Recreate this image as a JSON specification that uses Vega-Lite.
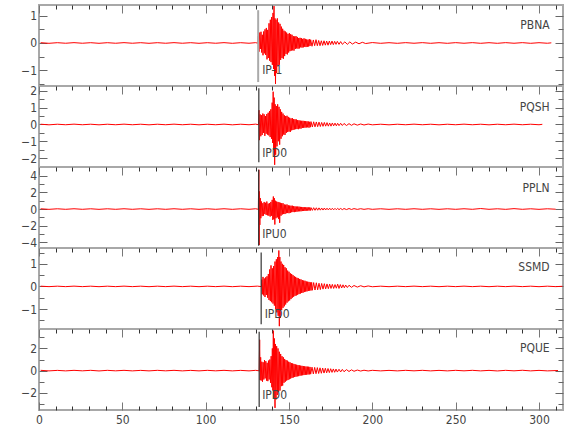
{
"$schema": "https://vega.github.io/schema/vega-lite/v6.json",
"padding": {"left": 19, "top": 3, "right": 5, "bottom": 5},
"spacing": 0,
"bounds": "flush",
"config": {
 "view": {"stroke": "#a8a8a8", "strokeWidth": 2},
 "axis": {"domain": false, "grid": false, "labelFont": "Liberation Sans Narrow, DejaVu Sans Condensed, sans-serif", "labelFontSize": 12, "labelColor": "#444", "tickColor": "#666", "tickWidth": 1, "labelFlush": false, "labelOverlap": false},
 "text": {"font": "Liberation Sans Narrow, DejaVu Sans Condensed, sans-serif", "fontSize": 12, "fill": "#444"}
},
"datasets": {
"PBNA": [{"t":1,"v":0.01},{"t":6,"v":-0.012},{"t":11,"v":0.01},{"t":16,"v":-0.01},{"t":21,"v":0.012},{"t":26,"v":-0.01},{"t":31,"v":0.01},{"t":36,"v":-0.012},{"t":41,"v":0.01},{"t":46,"v":-0.01},{"t":51,"v":0.012},{"t":56,"v":-0.01},{"t":61,"v":0.01},{"t":66,"v":-0.012},{"t":71,"v":0.01},{"t":76,"v":-0.01},{"t":81,"v":0.012},{"t":86,"v":-0.01},{"t":91,"v":0.01},{"t":96,"v":-0.012},{"t":101,"v":0.01},{"t":106,"v":-0.01},{"t":111,"v":0.012},{"t":116,"v":-0.012},{"t":121,"v":0.01},{"t":126,"v":-0.01},{"t":130,"v":0.012},{"t":131.3,"v":-0.01},
{"t":131.6,"v":0.25},{"t":132.0,"v":-0.32},{"t":132.4,"v":0.38},{"t":132.8,"v":-0.22},{"t":133.2,"v":0.41},{"t":133.6,"v":-0.35},{"t":134.0,"v":0.3},{"t":134.4,"v":-0.45},{"t":134.8,"v":0.42},{"t":135.2,"v":-0.38},{"t":135.6,"v":0.5},{"t":136.0,"v":-0.44},{"t":136.4,"v":0.55},{"t":136.8,"v":-0.6},{"t":137.2,"v":0.48},{"t":137.6,"v":-0.55},{"t":138.0,"v":0.72},{"t":138.4,"v":-0.65},{"t":138.8,"v":0.85},{"t":139.2,"v":-0.7},{"t":139.6,"v":0.95},{"t":140.0,"v":-0.8},{"t":140.4,"v":1.1},{"t":140.7,"v":-0.95},{"t":141.0,"v":1.35},{"t":141.3,"v":-1.2},{"t":141.6,"v":0.9},{"t":141.9,"v":-1.5},{"t":142.2,"v":0.85},{"t":142.6,"v":-1.1},{"t":143.0,"v":0.9},{"t":143.4,"v":-0.85},{"t":143.8,"v":0.75},{"t":144.2,"v":-0.8},{"t":144.6,"v":0.7},{"t":145.0,"v":-0.62},{"t":145.4,"v":0.6},{"t":145.8,"v":-0.55},{"t":146.2,"v":0.52},{"t":146.6,"v":-0.58},{"t":147.0,"v":0.45},{"t":147.4,"v":-0.48},{"t":147.8,"v":0.42},{"t":148.2,"v":-0.4},{"t":148.6,"v":0.38},{"t":149.0,"v":-0.42},{"t":149.4,"v":0.33},{"t":149.8,"v":-0.35},{"t":150.2,"v":0.36},{"t":150.6,"v":-0.3},{"t":151.0,"v":0.32},{"t":151.4,"v":-0.28},{"t":151.8,"v":0.3},{"t":152.2,"v":-0.27},{"t":152.6,"v":0.25},{"t":153.0,"v":-0.28},{"t":153.4,"v":0.24},{"t":153.8,"v":-0.22},{"t":154.2,"v":0.25},{"t":154.6,"v":-0.2},{"t":155.0,"v":0.22},{"t":155.4,"v":-0.21},{"t":155.8,"v":0.18},{"t":156.2,"v":-0.2},{"t":156.6,"v":0.19},{"t":157.0,"v":-0.16},{"t":157.4,"v":0.18},{"t":157.8,"v":-0.17},{"t":158.2,"v":0.15},{"t":158.6,"v":-0.16},{"t":159.0,"v":0.17},{"t":159.4,"v":-0.14},{"t":159.8,"v":0.15},{"t":160.2,"v":-0.15},{"t":160.6,"v":0.13},{"t":161.0,"v":-0.14},{"t":161.4,"v":0.12},{"t":161.8,"v":-0.13},{"t":162.2,"v":0.14},{"t":162.6,"v":-0.11},{"t":163.0,"v":0.12},
{"t":163.8,"v":-0.12},{"t":164.6,"v":0.11},{"t":165.4,"v":-0.1},{"t":166.2,"v":0.12},{"t":167.0,"v":-0.1},{"t":167.8,"v":0.09},{"t":168.6,"v":-0.1},{"t":169.4,"v":0.08},{"t":170.2,"v":-0.09},{"t":171.0,"v":0.08},{"t":171.8,"v":-0.08},{"t":172.6,"v":0.07},{"t":173.4,"v":-0.08},{"t":174.2,"v":0.07},{"t":175.0,"v":-0.06},{"t":175.8,"v":0.07},{"t":176.6,"v":-0.06},{"t":177.4,"v":0.06},{"t":178.2,"v":-0.05},{"t":179.0,"v":0.06},{"t":180.0,"v":-0.05},{"t":181.0,"v":0.05},{"t":182.0,"v":-0.05},{"t":183.5,"v":0.04},{"t":185.0,"v":-0.05},{"t":186.5,"v":0.04},{"t":188.0,"v":-0.04},{"t":190.0,"v":0.03},{"t":192.0,"v":-0.03},{"t":194.0,"v":0.025},{"t":196.0,"v":-0.02},
{"t":200,"v":0.015},{"t":205,"v":-0.012},{"t":210,"v":0.01},{"t":215,"v":-0.012},{"t":220,"v":0.012},{"t":225,"v":-0.01},{"t":230,"v":0.012},{"t":235,"v":-0.012},{"t":240,"v":0.01},{"t":245,"v":-0.012},{"t":250,"v":0.012},{"t":255,"v":-0.01},{"t":260,"v":0.012},{"t":265,"v":-0.012},{"t":270,"v":0.01},{"t":275,"v":-0.012},{"t":280,"v":0.012},{"t":285,"v":-0.01},{"t":290,"v":0.012},{"t":295,"v":-0.012},{"t":300,"v":0.01},{"t":305,"v":-0.01},{"t":307.4,"v":0.005}],
"PQSH": [{"t":1,"v":0.015},{"t":6,"v":-0.02},{"t":11,"v":0.015},{"t":16,"v":-0.015},{"t":21,"v":0.02},{"t":26,"v":-0.015},{"t":31,"v":0.015},{"t":36,"v":-0.02},{"t":41,"v":0.015},{"t":46,"v":-0.015},{"t":51,"v":0.02},{"t":56,"v":-0.015},{"t":61,"v":0.015},{"t":66,"v":-0.02},{"t":71,"v":0.015},{"t":76,"v":-0.015},{"t":81,"v":0.02},{"t":86,"v":-0.015},{"t":91,"v":0.015},{"t":96,"v":-0.02},{"t":101,"v":0.015},{"t":106,"v":-0.015},{"t":111,"v":0.02},{"t":116,"v":-0.02},{"t":121,"v":0.015},{"t":126,"v":-0.015},{"t":130,"v":0.02},{"t":131.7,"v":-0.015},
{"t":132.0,"v":0.85},{"t":132.3,"v":-0.93},{"t":132.7,"v":0.6},{"t":133.1,"v":-0.7},{"t":133.5,"v":0.55},{"t":133.9,"v":-0.62},{"t":134.3,"v":0.65},{"t":134.7,"v":-0.5},{"t":135.1,"v":0.6},{"t":135.5,"v":-0.68},{"t":135.9,"v":0.5},{"t":136.3,"v":-0.55},{"t":136.7,"v":0.62},{"t":137.1,"v":-0.6},{"t":137.5,"v":0.7},{"t":137.9,"v":-0.65},{"t":138.3,"v":0.8},{"t":138.7,"v":-0.75},{"t":139.1,"v":0.9},{"t":139.5,"v":-0.85},{"t":139.9,"v":1.3},{"t":140.2,"v":-1.1},{"t":140.5,"v":1.95},{"t":140.8,"v":-1.5},{"t":141.1,"v":1.6},{"t":141.4,"v":-2.4},{"t":141.7,"v":1.2},{"t":142.0,"v":-1.8},{"t":142.4,"v":1.1},{"t":142.8,"v":-1.3},{"t":143.2,"v":1.2},{"t":143.6,"v":-1.0},{"t":144.0,"v":1.05},{"t":144.4,"v":-1.2},{"t":144.8,"v":0.9},{"t":145.2,"v":-0.85},{"t":145.6,"v":0.75},{"t":146.0,"v":-0.7},{"t":146.4,"v":0.65},{"t":146.8,"v":-0.6},{"t":147.2,"v":0.55},{"t":147.6,"v":-0.62},{"t":148.0,"v":0.5},{"t":148.4,"v":-0.5},{"t":148.8,"v":0.52},{"t":149.2,"v":-0.45},{"t":149.6,"v":0.45},{"t":150.0,"v":-0.42},{"t":150.4,"v":0.4},{"t":150.8,"v":-0.44},{"t":151.2,"v":0.36},{"t":151.6,"v":-0.35},{"t":152.0,"v":0.38},{"t":152.4,"v":-0.33},{"t":152.8,"v":0.32},{"t":153.2,"v":-0.3},{"t":153.6,"v":0.31},{"t":154.0,"v":-0.28},{"t":154.4,"v":0.3},{"t":154.8,"v":-0.27},{"t":155.2,"v":0.26},{"t":155.6,"v":-0.28},{"t":156.0,"v":0.25},{"t":156.4,"v":-0.24},{"t":156.8,"v":0.23},{"t":157.2,"v":-0.25},{"t":157.6,"v":0.22},{"t":158.0,"v":-0.21},{"t":158.4,"v":0.22},{"t":158.8,"v":-0.2},{"t":159.2,"v":0.21},{"t":159.6,"v":-0.19},{"t":160.0,"v":0.2},{"t":160.4,"v":-0.18},{"t":160.8,"v":0.19},{"t":161.2,"v":-0.17},{"t":161.6,"v":0.18},{"t":162.0,"v":-0.19},{"t":162.4,"v":0.16},{"t":162.8,"v":-0.16},{"t":163.2,"v":0.17},
{"t":164.0,"v":-0.15},{"t":164.8,"v":0.16},{"t":165.6,"v":-0.14},{"t":166.4,"v":0.15},{"t":167.2,"v":-0.13},{"t":168.0,"v":0.14},{"t":168.8,"v":-0.12},{"t":169.6,"v":0.12},{"t":170.4,"v":-0.11},{"t":171.2,"v":0.12},{"t":172.0,"v":-0.1},{"t":172.8,"v":0.11},{"t":173.6,"v":-0.1},{"t":174.4,"v":0.09},{"t":175.2,"v":-0.1},{"t":176.0,"v":0.09},{"t":176.8,"v":-0.08},{"t":177.6,"v":0.08},{"t":178.4,"v":-0.08},{"t":179.2,"v":0.07},{"t":180.0,"v":-0.07},{"t":181.0,"v":0.07},{"t":182.0,"v":-0.06},{"t":183.0,"v":0.06},{"t":184.5,"v":-0.06},{"t":186.0,"v":0.05},{"t":187.5,"v":-0.05},{"t":189.0,"v":0.04},{"t":191.0,"v":-0.04},{"t":193.0,"v":0.03},{"t":195.0,"v":-0.03},{"t":197.5,"v":0.025},
{"t":200,"v":-0.02},{"t":205,"v":0.015},{"t":210,"v":-0.02},{"t":215,"v":0.015},{"t":220,"v":-0.015},{"t":225,"v":0.02},{"t":230,"v":-0.015},{"t":235,"v":0.015},{"t":240,"v":-0.02},{"t":245,"v":0.015},{"t":250,"v":-0.015},{"t":255,"v":0.02},{"t":260,"v":-0.015},{"t":265,"v":0.015},{"t":270,"v":-0.02},{"t":275,"v":0.015},{"t":280,"v":-0.015},{"t":285,"v":0.02},{"t":290,"v":-0.015},{"t":295,"v":0.015},{"t":300,"v":-0.015},{"t":302,"v":0.01}],
"PPLN": [{"t":1,"v":0.03},{"t":6,"v":-0.035},{"t":11,"v":0.03},{"t":16,"v":-0.03},{"t":21,"v":0.035},{"t":26,"v":-0.03},{"t":31,"v":0.03},{"t":36,"v":-0.035},{"t":41,"v":0.03},{"t":46,"v":-0.03},{"t":51,"v":0.035},{"t":56,"v":-0.03},{"t":61,"v":0.03},{"t":66,"v":-0.035},{"t":71,"v":0.03},{"t":76,"v":-0.03},{"t":81,"v":0.035},{"t":86,"v":-0.03},{"t":91,"v":0.03},{"t":96,"v":-0.035},{"t":101,"v":0.03},{"t":106,"v":-0.03},{"t":111,"v":0.035},{"t":116,"v":-0.035},{"t":121,"v":0.03},{"t":126,"v":-0.03},{"t":130,"v":0.035},{"t":131.6,"v":-0.03},
{"t":131.9,"v":4.7},{"t":132.1,"v":-4.3},{"t":132.3,"v":2.1},{"t":132.5,"v":-1.9},{"t":132.8,"v":1.3},{"t":133.1,"v":-1.1},{"t":133.5,"v":0.9},{"t":133.9,"v":-0.85},{"t":134.3,"v":0.7},{"t":134.7,"v":-0.8},{"t":135.1,"v":0.85},{"t":135.5,"v":-0.6},{"t":135.9,"v":0.75},{"t":136.3,"v":-0.7},{"t":136.7,"v":0.9},{"t":137.1,"v":-0.75},{"t":137.5,"v":0.65},{"t":137.9,"v":-0.8},{"t":138.3,"v":0.7},{"t":138.7,"v":-0.9},{"t":139.1,"v":0.85},{"t":139.5,"v":-0.8},{"t":139.9,"v":1.1},{"t":140.3,"v":-1.3},{"t":140.6,"v":1.5},{"t":140.9,"v":-1.2},{"t":141.2,"v":1.3},{"t":141.5,"v":-1.85},{"t":141.8,"v":1.0},{"t":142.2,"v":-1.1},{"t":142.6,"v":0.9},{"t":143.0,"v":-1.0},{"t":143.4,"v":0.85},{"t":143.8,"v":-1.2},{"t":144.1,"v":0.8},{"t":144.4,"v":-1.65},{"t":144.8,"v":0.75},{"t":145.2,"v":-0.8},{"t":145.6,"v":0.7},{"t":146.0,"v":-0.65},{"t":146.4,"v":0.7},{"t":146.8,"v":-0.6},{"t":147.2,"v":0.55},{"t":147.6,"v":-0.6},{"t":148.0,"v":0.52},{"t":148.4,"v":-0.5},{"t":148.8,"v":0.55},{"t":149.2,"v":-0.48},{"t":149.6,"v":0.45},{"t":150.0,"v":-0.5},{"t":150.4,"v":0.42},{"t":150.8,"v":-0.45},{"t":151.2,"v":0.4},{"t":151.6,"v":-0.38},{"t":152.0,"v":0.4},{"t":152.4,"v":-0.36},{"t":152.8,"v":0.35},{"t":153.2,"v":-0.37},{"t":153.6,"v":0.32},{"t":154.0,"v":-0.33},{"t":154.4,"v":0.3},{"t":154.8,"v":-0.32},{"t":155.2,"v":0.3},{"t":155.6,"v":-0.28},{"t":156.0,"v":0.29},{"t":156.4,"v":-0.27},{"t":156.8,"v":0.26},{"t":157.2,"v":-0.27},{"t":157.6,"v":0.25},{"t":158.0,"v":-0.24},{"t":158.4,"v":0.24},{"t":158.8,"v":-0.23},{"t":159.2,"v":0.22},{"t":159.6,"v":-0.23},{"t":160.0,"v":0.21},{"t":160.4,"v":-0.2},{"t":160.8,"v":0.21},{"t":161.2,"v":-0.19},{"t":161.6,"v":0.2},{"t":162.0,"v":-0.18},{"t":162.4,"v":0.19},{"t":162.8,"v":-0.18},{"t":163.2,"v":0.17},
{"t":164.0,"v":-0.16},{"t":164.8,"v":0.16},{"t":165.6,"v":-0.15},{"t":166.4,"v":0.15},{"t":167.2,"v":-0.14},{"t":168.0,"v":0.14},{"t":168.8,"v":-0.13},{"t":169.6,"v":0.12},{"t":170.4,"v":-0.12},{"t":171.2,"v":0.12},{"t":172.0,"v":-0.11},{"t":172.8,"v":0.1},{"t":173.6,"v":-0.1},{"t":174.4,"v":0.1},{"t":175.2,"v":-0.09},{"t":176.0,"v":0.09},{"t":176.8,"v":-0.09},{"t":177.6,"v":0.08},{"t":178.4,"v":-0.08},{"t":179.2,"v":0.08},{"t":180.0,"v":-0.07},{"t":181.0,"v":0.07},{"t":182.0,"v":-0.07},{"t":183.0,"v":0.06},{"t":184.5,"v":-0.06},{"t":186.0,"v":0.06},{"t":187.5,"v":-0.05},{"t":189.0,"v":0.05},{"t":191.0,"v":-0.04},{"t":193.0,"v":0.04},{"t":195.0,"v":-0.035},{"t":197.5,"v":0.035},
{"t":200,"v":-0.03},{"t":205,"v":0.03},{"t":210,"v":-0.035},{"t":215,"v":0.03},{"t":220,"v":-0.03},{"t":225,"v":0.035},{"t":230,"v":-0.03},{"t":235,"v":0.03},{"t":240,"v":-0.035},{"t":245,"v":0.03},{"t":250,"v":-0.03},{"t":255,"v":0.035},{"t":260,"v":-0.03},{"t":265,"v":0.06},{"t":270,"v":-0.03},{"t":275,"v":0.03},{"t":280,"v":-0.035},{"t":285,"v":0.05},{"t":290,"v":-0.03},{"t":295,"v":0.03},{"t":300,"v":-0.035},{"t":305,"v":0.03},{"t":310,"v":-0.02}],
"SSMD": [{"t":1,"v":0.01},{"t":6,"v":-0.01},{"t":11,"v":0.01},{"t":16,"v":-0.01},{"t":21,"v":0.012},{"t":26,"v":-0.01},{"t":31,"v":0.01},{"t":36,"v":-0.012},{"t":41,"v":0.01},{"t":46,"v":-0.01},{"t":51,"v":0.012},{"t":56,"v":-0.01},{"t":61,"v":0.01},{"t":66,"v":-0.012},{"t":71,"v":0.01},{"t":76,"v":-0.01},{"t":81,"v":0.012},{"t":86,"v":-0.01},{"t":91,"v":0.01},{"t":96,"v":-0.012},{"t":101,"v":0.01},{"t":106,"v":-0.01},{"t":111,"v":0.012},{"t":116,"v":-0.012},{"t":121,"v":0.01},{"t":126,"v":-0.01},{"t":131,"v":0.012},{"t":133.5,"v":-0.01},
{"t":133.7,"v":0.3},{"t":134.0,"v":-0.35},{"t":134.4,"v":0.42},{"t":134.8,"v":-0.4},{"t":135.2,"v":0.35},{"t":135.6,"v":-0.47},{"t":136.0,"v":0.4},{"t":136.4,"v":-0.38},{"t":136.8,"v":0.45},{"t":137.2,"v":-0.5},{"t":137.6,"v":0.55},{"t":138.0,"v":-0.6},{"t":138.4,"v":0.75},{"t":138.8,"v":-0.65},{"t":139.2,"v":0.93},{"t":139.6,"v":-0.7},{"t":140.0,"v":0.8},{"t":140.4,"v":-0.76},{"t":140.8,"v":0.9},{"t":141.2,"v":-0.85},{"t":141.6,"v":1.1},{"t":142.0,"v":-1.0},{"t":142.4,"v":1.2},{"t":142.8,"v":-1.15},{"t":143.2,"v":1.3},{"t":143.5,"v":-1.3},{"t":143.9,"v":1.59},{"t":144.2,"v":-1.76},{"t":144.5,"v":1.3},{"t":144.8,"v":-1.4},{"t":145.2,"v":1.1},{"t":145.6,"v":-1.05},{"t":146.0,"v":1.0},{"t":146.4,"v":-0.95},{"t":146.8,"v":0.95},{"t":147.2,"v":-0.88},{"t":147.6,"v":0.85},{"t":148.0,"v":-0.8},{"t":148.4,"v":0.8},{"t":148.8,"v":-0.72},{"t":149.2,"v":0.7},{"t":149.6,"v":-0.66},{"t":150.0,"v":0.65},{"t":150.4,"v":-0.62},{"t":150.8,"v":0.58},{"t":151.2,"v":-0.56},{"t":151.6,"v":0.55},{"t":152.0,"v":-0.5},{"t":152.4,"v":0.5},{"t":152.8,"v":-0.46},{"t":153.2,"v":0.45},{"t":153.6,"v":-0.42},{"t":154.0,"v":0.42},{"t":154.4,"v":-0.4},{"t":154.8,"v":0.38},{"t":155.2,"v":-0.37},{"t":155.6,"v":0.36},{"t":156.0,"v":-0.34},{"t":156.4,"v":0.33},{"t":156.8,"v":-0.32},{"t":157.2,"v":0.31},{"t":157.6,"v":-0.29},{"t":158.0,"v":0.28},{"t":158.4,"v":-0.28},{"t":158.8,"v":0.26},{"t":159.2,"v":-0.25},{"t":159.6,"v":0.25},{"t":160.0,"v":-0.23},{"t":160.4,"v":0.22},{"t":160.8,"v":-0.22},{"t":161.2,"v":0.21},{"t":161.6,"v":-0.2},{"t":162.0,"v":0.2},{"t":162.4,"v":-0.19},{"t":162.8,"v":0.18},{"t":163.2,"v":-0.18},{"t":163.6,"v":0.18},{"t":164.0,"v":-0.17},
{"t":164.8,"v":0.17},{"t":165.6,"v":-0.16},{"t":166.4,"v":0.16},{"t":167.2,"v":-0.15},{"t":168.0,"v":0.14},{"t":168.8,"v":-0.14},{"t":169.6,"v":0.13},{"t":170.4,"v":-0.12},{"t":171.2,"v":0.12},{"t":172.0,"v":-0.11},{"t":172.8,"v":0.11},{"t":173.6,"v":-0.1},{"t":174.4,"v":0.1},{"t":175.2,"v":-0.09},{"t":176.0,"v":0.09},{"t":176.8,"v":-0.09},{"t":177.6,"v":0.08},{"t":178.4,"v":-0.08},{"t":179.2,"v":0.1},{"t":180.0,"v":-0.09},{"t":180.8,"v":0.08},{"t":181.6,"v":-0.07},{"t":182.4,"v":0.07},{"t":183.2,"v":-0.06},{"t":184.0,"v":0.06},{"t":185.0,"v":-0.05},{"t":186.0,"v":0.05},{"t":187.5,"v":-0.04},{"t":189.0,"v":0.04},{"t":191.0,"v":-0.03},{"t":193.0,"v":0.03},{"t":195.0,"v":-0.02},{"t":197.5,"v":0.02},
{"t":200,"v":-0.015},{"t":205,"v":0.01},{"t":210,"v":-0.012},{"t":215,"v":0.01},{"t":220,"v":-0.01},{"t":225,"v":0.012},{"t":230,"v":-0.01},{"t":235,"v":0.01},{"t":240,"v":-0.012},{"t":245,"v":0.01},{"t":250,"v":-0.01},{"t":255,"v":0.012},{"t":260,"v":-0.01},{"t":265,"v":0.01},{"t":270,"v":-0.012},{"t":275,"v":0.01},{"t":280,"v":-0.01},{"t":285,"v":0.012},{"t":290,"v":-0.01},{"t":295,"v":0.01},{"t":300,"v":-0.012},{"t":305,"v":0.01},{"t":310,"v":-0.01},{"t":314,"v":0.005}],
"PQUE": [{"t":1,"v":0.025},{"t":6,"v":-0.025},{"t":11,"v":0.02},{"t":16,"v":-0.025},{"t":21,"v":0.025},{"t":26,"v":-0.02},{"t":31,"v":0.025},{"t":36,"v":-0.03},{"t":41,"v":0.025},{"t":46,"v":-0.02},{"t":51,"v":0.025},{"t":56,"v":-0.025},{"t":61,"v":0.02},{"t":66,"v":-0.025},{"t":71,"v":0.025},{"t":76,"v":-0.02},{"t":81,"v":0.025},{"t":86,"v":-0.025},{"t":91,"v":0.02},{"t":96,"v":-0.025},{"t":101,"v":0.025},{"t":106,"v":-0.02},{"t":111,"v":0.025},{"t":116,"v":-0.025},{"t":121,"v":0.02},{"t":126,"v":-0.025},{"t":130,"v":0.025},{"t":132.1,"v":-0.02},
{"t":132.4,"v":2.78},{"t":132.7,"v":-0.85},{"t":133.0,"v":1.2},{"t":133.3,"v":-0.9},{"t":133.7,"v":0.8},{"t":134.1,"v":-1.0},{"t":134.5,"v":0.75},{"t":134.9,"v":-0.8},{"t":135.3,"v":0.95},{"t":135.7,"v":-0.7},{"t":136.1,"v":0.85},{"t":136.5,"v":-0.9},{"t":136.9,"v":0.7},{"t":137.3,"v":-0.95},{"t":137.7,"v":0.9},{"t":138.1,"v":-0.8},{"t":138.5,"v":1.0},{"t":138.9,"v":-1.1},{"t":139.3,"v":1.3},{"t":139.7,"v":-1.5},{"t":140.0,"v":2.0},{"t":140.3,"v":-1.8},{"t":140.6,"v":3.6},{"t":140.9,"v":-2.5},{"t":141.2,"v":2.9},{"t":141.6,"v":-3.36},{"t":141.9,"v":2.4},{"t":142.2,"v":-2.6},{"t":142.6,"v":2.2},{"t":143.0,"v":-2.2},{"t":143.4,"v":2.0},{"t":143.8,"v":-1.9},{"t":144.2,"v":1.7},{"t":144.6,"v":-1.8},{"t":145.0,"v":1.5},{"t":145.4,"v":-1.4},{"t":145.8,"v":1.3},{"t":146.2,"v":-1.35},{"t":146.6,"v":1.2},{"t":147.0,"v":-1.1},{"t":147.4,"v":1.05},{"t":147.8,"v":-1.0},{"t":148.2,"v":0.95},{"t":148.6,"v":-0.9},{"t":149.0,"v":0.9},{"t":149.4,"v":-0.85},{"t":149.8,"v":0.8},{"t":150.2,"v":-0.78},{"t":150.6,"v":0.75},{"t":151.0,"v":-0.72},{"t":151.4,"v":0.68},{"t":151.8,"v":-0.66},{"t":152.2,"v":0.65},{"t":152.6,"v":-0.62},{"t":153.0,"v":0.6},{"t":153.4,"v":-0.58},{"t":153.8,"v":0.56},{"t":154.2,"v":-0.55},{"t":154.6,"v":0.53},{"t":155.0,"v":-0.52},{"t":155.4,"v":0.5},{"t":155.8,"v":-0.5},{"t":156.2,"v":0.48},{"t":156.6,"v":-0.46},{"t":157.0,"v":0.45},{"t":157.4,"v":-0.44},{"t":157.8,"v":0.43},{"t":158.2,"v":-0.42},{"t":158.6,"v":0.41},{"t":159.0,"v":-0.4},{"t":159.4,"v":0.39},{"t":159.8,"v":-0.38},{"t":160.2,"v":0.37},{"t":160.6,"v":-0.37},{"t":161.0,"v":0.36},{"t":161.4,"v":-0.35},{"t":161.8,"v":0.35},{"t":162.2,"v":-0.34},{"t":162.6,"v":0.33},{"t":163.0,"v":-0.32},
{"t":163.8,"v":0.31},{"t":164.6,"v":-0.3},{"t":165.4,"v":0.29},{"t":166.2,"v":-0.28},{"t":167.0,"v":0.27},{"t":167.8,"v":-0.26},{"t":168.6,"v":0.25},{"t":169.4,"v":-0.24},{"t":170.2,"v":0.23},{"t":171.0,"v":-0.22},{"t":171.8,"v":0.21},{"t":172.6,"v":-0.2},{"t":173.4,"v":0.19},{"t":174.2,"v":-0.18},{"t":175.0,"v":0.17},{"t":175.8,"v":-0.16},{"t":176.6,"v":0.15},{"t":177.4,"v":-0.15},{"t":178.2,"v":0.14},{"t":179.0,"v":-0.13},{"t":180.0,"v":0.12},{"t":181.0,"v":-0.12},{"t":182.0,"v":0.11},{"t":183.0,"v":-0.1},{"t":184.5,"v":0.09},{"t":186.0,"v":-0.08},{"t":187.5,"v":0.07},{"t":189.0,"v":-0.06},{"t":191.0,"v":0.05},{"t":193.0,"v":-0.04},{"t":195.0,"v":0.035},{"t":197.5,"v":-0.03},
{"t":200,"v":0.025},{"t":205,"v":-0.025},{"t":210,"v":0.02},{"t":215,"v":-0.025},{"t":220,"v":0.025},{"t":225,"v":-0.02},{"t":230,"v":0.025},{"t":235,"v":-0.025},{"t":240,"v":0.02},{"t":245,"v":-0.025},{"t":250,"v":0.025},{"t":255,"v":-0.02},{"t":260,"v":0.025},{"t":265,"v":-0.025},{"t":270,"v":0.02},{"t":275,"v":-0.03},{"t":280,"v":0.025},{"t":285,"v":-0.02},{"t":290,"v":0.03},{"t":295,"v":-0.025},{"t":300,"v":0.02},{"t":305,"v":-0.025},{"t":311.4,"v":0.01}]
},
"vconcat": [
{"width": 524, "height": 81,
 "resolve": {"axis": {"x": "independent", "y": "independent"}},
 "layer": [
  {"data": {"name": "PBNA"}, "mark": {"type": "line", "color": "#ff0000", "strokeWidth": 1, "clip": true},
   "encoding": {
    "x": {"field": "t", "type": "quantitative", "scale": {"domain": [0, 314.4], "nice": false, "zero": false}, "axis": {"orient": "top", "values": [0,50,100,150,200,250,300], "tickSize": -8, "labels": false, "title": null, "tickColor": "#777"}},
    "y": {"field": "v", "type": "quantitative", "scale": {"domain": [-1.575, 1.39], "nice": false, "zero": false}, "axis": {"orient": "left", "values": [-1,0,1], "tickSize": -8, "labelPadding": 10.5, "title": null}}}},
  {"data": {"values": [{"t": 131.5, "y1": 1.2, "y2": -1.43}]}, "mark": {"type": "rule", "color": "#aaaaaa", "strokeWidth": 2},
   "encoding": {
    "x": {"field": "t", "type": "quantitative", "scale": {"domain": [0, 314.4], "nice": false, "zero": false}, "axis": {"orient": "top", "values": [10,20,30,40,60,70,80,90,110,120,130,140,160,170,180,190,210,220,230,240,260,270,280,290,310], "tickSize": -4, "labels": false, "title": null, "tickColor": "#333"}},
    "y": {"field": "y1", "type": "quantitative", "scale": {"domain": [-1.575, 1.39], "nice": false, "zero": false}, "axis": {"orient": "right", "values": [-1,0,1], "tickSize": -8, "labels": false, "title": null}},
    "y2": {"field": "y2"}}},
  {"data": {"values": [{"t": 133.9, "v": -1.0, "label": "IP-1"}]}, "mark": {"type": "text", "align": "left", "baseline": "middle"},
   "encoding": {
    "x": {"field": "t", "type": "quantitative", "scale": {"domain": [0, 314.4], "nice": false, "zero": false}, "axis": null},
    "y": {"field": "v", "type": "quantitative", "scale": {"domain": [-1.575, 1.39], "nice": false, "zero": false}, "axis": {"orient": "left", "values": [-1.5,-0.5,0.5], "tickSize": -5, "labels": false, "title": null}},
    "text": {"field": "label"}}},
  {"data": {"values": [{"t": 306.4, "v": 0.67, "label": "PBNA"}]}, "mark": {"type": "text", "align": "right", "baseline": "middle"},
   "encoding": {
    "x": {"field": "t", "type": "quantitative", "scale": {"domain": [0, 314.4], "nice": false, "zero": false}, "axis": null},
    "y": {"field": "v", "type": "quantitative", "scale": {"domain": [-1.575, 1.39], "nice": false, "zero": false}, "axis": {"orient": "right", "values": [-1.5,-0.5,0.5], "tickSize": -5, "labels": false, "title": null}},
    "text": {"field": "label"}}}
 ]},
{"width": 524, "height": 81,
 "resolve": {"axis": {"x": "independent", "y": "independent"}},
 "layer": [
  {"data": {"name": "PQSH"}, "mark": {"type": "line", "color": "#ff0000", "strokeWidth": 1, "clip": true},
   "encoding": {
    "x": {"field": "t", "type": "quantitative", "scale": {"domain": [0, 314.4], "nice": false, "zero": false}, "axis": {"orient": "top", "values": [0,50,100,150,200,250,300], "tickSize": -8, "labels": false, "title": null, "tickColor": "#777"}},
    "y": {"field": "v", "type": "quantitative", "scale": {"domain": [-2.53, 2.29], "nice": false, "zero": false}, "axis": {"orient": "left", "values": [-2,-1,0,1,2], "tickSize": -8, "labelPadding": 10.5, "title": null}}}},
  {"data": {"values": [{"t": 131.9, "y1": 2.15, "y2": -2.25}]}, "mark": {"type": "rule", "color": "#333333", "strokeWidth": 1.2},
   "encoding": {
    "x": {"field": "t", "type": "quantitative", "scale": {"domain": [0, 314.4], "nice": false, "zero": false}, "axis": {"orient": "top", "values": [10,20,30,40,60,70,80,90,110,120,130,140,160,170,180,190,210,220,230,240,260,270,280,290,310], "tickSize": -4, "labels": false, "title": null, "tickColor": "#333"}},
    "y": {"field": "y1", "type": "quantitative", "scale": {"domain": [-2.53, 2.29], "nice": false, "zero": false}, "axis": {"orient": "right", "values": [-2,-1,0,1,2], "tickSize": -8, "labels": false, "title": null}},
    "y2": {"field": "y2"}}},
  {"data": {"values": [{"t": 133.9, "v": -1.72, "label": "IPD0"}]}, "mark": {"type": "text", "align": "left", "baseline": "middle"},
   "encoding": {
    "x": {"field": "t", "type": "quantitative", "scale": {"domain": [0, 314.4], "nice": false, "zero": false}, "axis": null},
    "y": {"field": "v", "type": "quantitative", "scale": {"domain": [-2.53, 2.29], "nice": false, "zero": false}, "axis": {"orient": "left", "values": [-1.5,-0.5,0.5,1.5], "tickSize": -5, "labels": false, "title": null}},
    "text": {"field": "label"}}},
  {"data": {"values": [{"t": 306.4, "v": 1.02, "label": "PQSH"}]}, "mark": {"type": "text", "align": "right", "baseline": "middle"},
   "encoding": {
    "x": {"field": "t", "type": "quantitative", "scale": {"domain": [0, 314.4], "nice": false, "zero": false}, "axis": null},
    "y": {"field": "v", "type": "quantitative", "scale": {"domain": [-2.53, 2.29], "nice": false, "zero": false}, "axis": {"orient": "right", "values": [-1.5,-0.5,0.5,1.5], "tickSize": -5, "labels": false, "title": null}},
    "text": {"field": "label"}}}
 ]},
{"width": 524, "height": 81,
 "resolve": {"axis": {"x": "independent", "y": "independent"}},
 "layer": [
  {"data": {"name": "PPLN"}, "mark": {"type": "line", "color": "#ff0000", "strokeWidth": 1, "clip": true},
   "encoding": {
    "x": {"field": "t", "type": "quantitative", "scale": {"domain": [0, 314.4], "nice": false, "zero": false}, "axis": {"orient": "top", "values": [0,50,100,150,200,250,300], "tickSize": -8, "labels": false, "title": null, "tickColor": "#777"}},
    "y": {"field": "v", "type": "quantitative", "scale": {"domain": [-4.66, 5.03], "nice": false, "zero": false}, "axis": {"orient": "left", "values": [-4,-2,0,2,4], "tickSize": -8, "labelPadding": 10.5, "title": null}}}},
  {"data": {"values": [{"t": 131.8, "y1": 4.7, "y2": -4.4}]}, "mark": {"type": "rule", "color": "#333333", "strokeWidth": 1.2},
   "encoding": {
    "x": {"field": "t", "type": "quantitative", "scale": {"domain": [0, 314.4], "nice": false, "zero": false}, "axis": {"orient": "top", "values": [10,20,30,40,60,70,80,90,110,120,130,140,160,170,180,190,210,220,230,240,260,270,280,290,310], "tickSize": -4, "labels": false, "title": null, "tickColor": "#333"}},
    "y": {"field": "y1", "type": "quantitative", "scale": {"domain": [-4.66, 5.03], "nice": false, "zero": false}, "axis": {"orient": "right", "values": [-4,-2,0,2,4], "tickSize": -8, "labels": false, "title": null}},
    "y2": {"field": "y2"}}},
  {"data": {"values": [{"t": 133.9, "v": -2.98, "label": "IPU0"}]}, "mark": {"type": "text", "align": "left", "baseline": "middle"},
   "encoding": {
    "x": {"field": "t", "type": "quantitative", "scale": {"domain": [0, 314.4], "nice": false, "zero": false}, "axis": null},
    "y": {"field": "v", "type": "quantitative", "scale": {"domain": [-4.66, 5.03], "nice": false, "zero": false}, "axis": {"orient": "left", "values": [-3,-1,1,3], "tickSize": -5, "labels": false, "title": null}},
    "text": {"field": "label"}}},
  {"data": {"values": [{"t": 306.4, "v": 2.57, "label": "PPLN"}]}, "mark": {"type": "text", "align": "right", "baseline": "middle"},
   "encoding": {
    "x": {"field": "t", "type": "quantitative", "scale": {"domain": [0, 314.4], "nice": false, "zero": false}, "axis": null},
    "y": {"field": "v", "type": "quantitative", "scale": {"domain": [-4.66, 5.03], "nice": false, "zero": false}, "axis": {"orient": "right", "values": [-3,-1,1,3], "tickSize": -5, "labels": false, "title": null}},
    "text": {"field": "label"}}}
 ]},
{"width": 524, "height": 81,
 "resolve": {"axis": {"x": "independent", "y": "independent"}},
 "layer": [
  {"data": {"name": "SSMD"}, "mark": {"type": "line", "color": "#ff0000", "strokeWidth": 1, "clip": true},
   "encoding": {
    "x": {"field": "t", "type": "quantitative", "scale": {"domain": [0, 314.4], "nice": false, "zero": false}, "axis": {"orient": "top", "values": [0,50,100,150,200,250,300], "tickSize": -8, "labels": false, "title": null, "tickColor": "#777"}},
    "y": {"field": "v", "type": "quantitative", "scale": {"domain": [-1.885, 1.7], "nice": false, "zero": false}, "axis": {"orient": "left", "values": [-1,0,1], "tickSize": -8, "labelPadding": 10.5, "title": null}}}},
  {"data": {"values": [{"t": 133.3, "y1": 1.5, "y2": -1.67}]}, "mark": {"type": "rule", "color": "#333333", "strokeWidth": 1.2},
   "encoding": {
    "x": {"field": "t", "type": "quantitative", "scale": {"domain": [0, 314.4], "nice": false, "zero": false}, "axis": {"orient": "top", "values": [10,20,30,40,60,70,80,90,110,120,130,140,160,170,180,190,210,220,230,240,260,270,280,290,310], "tickSize": -4, "labels": false, "title": null, "tickColor": "#333"}},
    "y": {"field": "y1", "type": "quantitative", "scale": {"domain": [-1.885, 1.7], "nice": false, "zero": false}, "axis": {"orient": "right", "values": [-1,0,1], "tickSize": -8, "labels": false, "title": null}},
    "y2": {"field": "y2"}}},
  {"data": {"values": [{"t": 135.4, "v": -1.2, "label": "IPD0"}]}, "mark": {"type": "text", "align": "left", "baseline": "middle"},
   "encoding": {
    "x": {"field": "t", "type": "quantitative", "scale": {"domain": [0, 314.4], "nice": false, "zero": false}, "axis": null},
    "y": {"field": "v", "type": "quantitative", "scale": {"domain": [-1.885, 1.7], "nice": false, "zero": false}, "axis": {"orient": "left", "values": [-1.5,-0.5,0.5,1.5], "tickSize": -5, "labels": false, "title": null}},
    "text": {"field": "label"}}},
  {"data": {"values": [{"t": 306.4, "v": 0.86, "label": "SSMD"}]}, "mark": {"type": "text", "align": "right", "baseline": "middle"},
   "encoding": {
    "x": {"field": "t", "type": "quantitative", "scale": {"domain": [0, 314.4], "nice": false, "zero": false}, "axis": null},
    "y": {"field": "v", "type": "quantitative", "scale": {"domain": [-1.885, 1.7], "nice": false, "zero": false}, "axis": {"orient": "right", "values": [-1.5,-0.5,0.5,1.5], "tickSize": -5, "labels": false, "title": null}},
    "text": {"field": "label"}}}
 ]},
{"width": 524, "height": 81,
 "resolve": {"axis": {"x": "independent", "y": "independent"}},
 "layer": [
  {"data": {"name": "PQUE"}, "mark": {"type": "line", "color": "#ff0000", "strokeWidth": 1, "clip": true},
   "encoding": {
    "x": {"field": "t", "type": "quantitative", "scale": {"domain": [0, 314.4], "nice": false, "zero": false}, "axis": {"orient": "top", "values": [0,50,100,150,200,250,300], "tickSize": -8, "labels": false, "title": null, "tickColor": "#777"}},
    "y": {"field": "v", "type": "quantitative", "scale": {"domain": [-3.55, 3.75], "nice": false, "zero": false}, "axis": {"orient": "left", "values": [-2,0,2], "tickSize": -8, "labelPadding": 10.5, "title": null}}}},
  {"data": {"values": [{"t": 132.1, "y1": 3.5, "y2": -3.27}]}, "mark": {"type": "rule", "color": "#333333", "strokeWidth": 1.2},
   "encoding": {
    "x": {"field": "t", "type": "quantitative", "scale": {"domain": [0, 314.4], "nice": false, "zero": false}, "axis": {"orient": "top", "values": [10,20,30,40,60,70,80,90,110,120,130,140,160,170,180,190,210,220,230,240,260,270,280,290,310], "tickSize": -4, "labels": false, "title": null, "tickColor": "#333"}},
    "y": {"field": "y1", "type": "quantitative", "scale": {"domain": [-3.55, 3.75], "nice": false, "zero": false}, "axis": {"orient": "right", "values": [-2,0,2], "tickSize": -8, "labels": false, "title": null}},
    "y2": {"field": "y2"}}},
  {"data": {"values": [{"t": 133.9, "v": -2.2, "label": "IPD0"}]}, "mark": {"type": "text", "align": "left", "baseline": "middle"},
   "encoding": {
    "x": {"field": "t", "type": "quantitative", "scale": {"domain": [0, 314.4], "nice": false, "zero": false}, "axis": {"orient": "bottom", "values": [0,50,100,150,200,250,300], "tickSize": -8, "labelPadding": 12, "title": null, "tickColor": "#777"}},
    "y": {"field": "v", "type": "quantitative", "scale": {"domain": [-3.55, 3.75], "nice": false, "zero": false}, "axis": {"orient": "left", "values": [-3,-1,1,3], "tickSize": -5, "labels": false, "title": null}},
    "text": {"field": "label"}}},
  {"data": {"values": [{"t": 306.4, "v": 2.0, "label": "PQUE"}]}, "mark": {"type": "text", "align": "right", "baseline": "middle"},
   "encoding": {
    "x": {"field": "t", "type": "quantitative", "scale": {"domain": [0, 314.4], "nice": false, "zero": false}, "axis": {"orient": "bottom", "values": [10,20,30,40,60,70,80,90,110,120,130,140,160,170,180,190,210,220,230,240,260,270,280,290,310], "tickSize": -4, "labels": false, "title": null, "tickColor": "#333"}},
    "y": {"field": "v", "type": "quantitative", "scale": {"domain": [-3.55, 3.75], "nice": false, "zero": false}, "axis": {"orient": "right", "values": [-3,-1,1,3], "tickSize": -5, "labels": false, "title": null}},
    "text": {"field": "label"}}}
 ]}
]
}
